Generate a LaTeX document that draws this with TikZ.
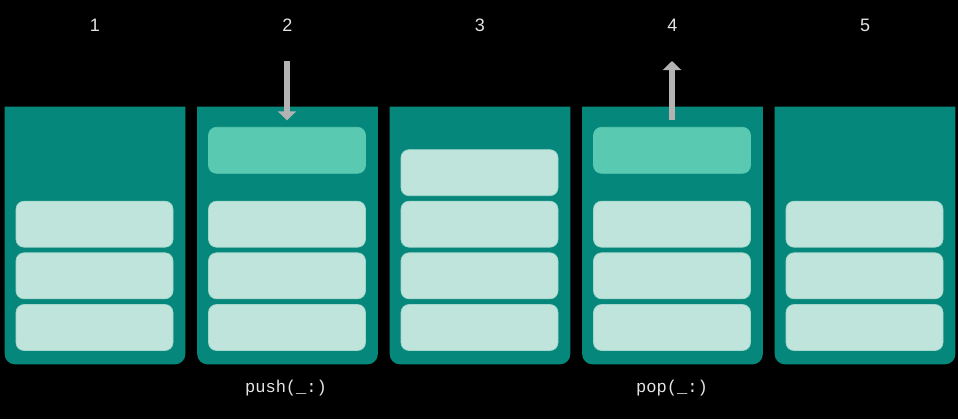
\documentclass[tikz,border=0pt]{standalone}
\usepackage{fontspec}
\setmainfont{Liberation Sans}
\setmonofont{Liberation Mono}
\usetikzlibrary{arrows.meta}
\definecolor{stackteal}{HTML}{05887B}
\definecolor{itemlight}{HTML}{BFE4DC}
\definecolor{itemedge}{HTML}{A3D6CB}
\definecolor{itemnew}{HTML}{59C9B1}
\definecolor{arrowgrey}{HTML}{B3B3B3}
\definecolor{labelgrey}{HTML}{E4E4E4}
\tikzset{
  stack/.style={minimum width=135pt,minimum height=192.75pt,inner sep=0pt},
  item/.style={fill=itemlight,draw=itemedge,line width=0.5pt,rounded corners=6pt,minimum width=117.75pt,minimum height=34.5pt,inner sep=0pt},
  newitem/.style={item,fill=itemnew,draw=itemnew},
  num/.style={text=labelgrey,font=\fontsize{13.5}{15}\selectfont},
  op/.style={text=labelgrey,font=\ttfamily\fontsize{12.8}{14}\selectfont,anchor=base},
  move/.style={draw=arrowgrey,line width=4.5pt,-{Triangle[width=13.5pt,length=6.75pt]}}
}
\begin{document}
\begin{tikzpicture}[x=0.75pt,y=-0.75pt]
\fill[black] (0,0) rectangle (958,419);
\useasboundingbox (0,0) rectangle (958,419);
\node[num] (n1) at (95,25){1};
\node[num] (n2) at (287.5,25){2};
\node[num] (n3) at (480,25){3};
\node[num] (n4) at (672.5,25){4};
\node[num] (n5) at (865,25){5};
\node[stack] (s1) at (95,235.5){};
\node[stack] (s2) at (287.5,235.5){};
\node[stack] (s3) at (480,235.5){};
\node[stack] (s4) at (672.5,235.5){};
\node[stack] (s5) at (865,235.5){};
\fill[stackteal,rounded corners=7.5pt] (s1.north west) -- (s1.south west) -- (s1.south east) -- (s1.north east);
\fill[stackteal,rounded corners=7.5pt] (s2.north west) -- (s2.south west) -- (s2.south east) -- (s2.north east);
\fill[stackteal,rounded corners=7.5pt] (s3.north west) -- (s3.south west) -- (s3.south east) -- (s3.north east);
\fill[stackteal,rounded corners=7.5pt] (s4.north west) -- (s4.south west) -- (s4.south east) -- (s4.north east);
\fill[stackteal,rounded corners=7.5pt] (s5.north west) -- (s5.south west) -- (s5.south east) -- (s5.north east);
% stack 1
\node[item] (s1b1) at (94.5,327.5){};
\node[item] (s1b2) at (94.5,275.8){};
\node[item] (s1b3) at (94.5,224.2){};
% stack 2: push
\node[item] (s2b1) at (287,327.5){};
\node[item] (s2b2) at (287,275.8){};
\node[item] (s2b3) at (287,224.2){};
\node[newitem] (s2new) at (287,150.3){};
% stack 3
\node[item] (s3b1) at (479.5,327.5){};
\node[item] (s3b2) at (479.5,275.8){};
\node[item] (s3b3) at (479.5,224.2){};
\node[item] (s3b4) at (479.5,172.7){};
% stack 4: pop
\node[item] (s4b1) at (672,327.5){};
\node[item] (s4b2) at (672,275.8){};
\node[item] (s4b3) at (672,224.2){};
\node[newitem] (s4new) at (672,150.3){};
% stack 5
\node[item] (s5b1) at (864.5,327.5){};
\node[item] (s5b2) at (864.5,275.8){};
\node[item] (s5b3) at (864.5,224.2){};
\coordinate (pushfrom) at (287,61);
\coordinate (popto) at (672,61);
\draw[move,shorten >=5pt] (pushfrom) -- (s2new.north);
\draw[move,shorten <=5pt] (s4new.north) -- (popto);
\node[op] (pushop) at (286,392.7){push(\_:)};
\node[op] (popop) at (672,392.7){pop(\_:)};
\end{tikzpicture}
\end{document}
